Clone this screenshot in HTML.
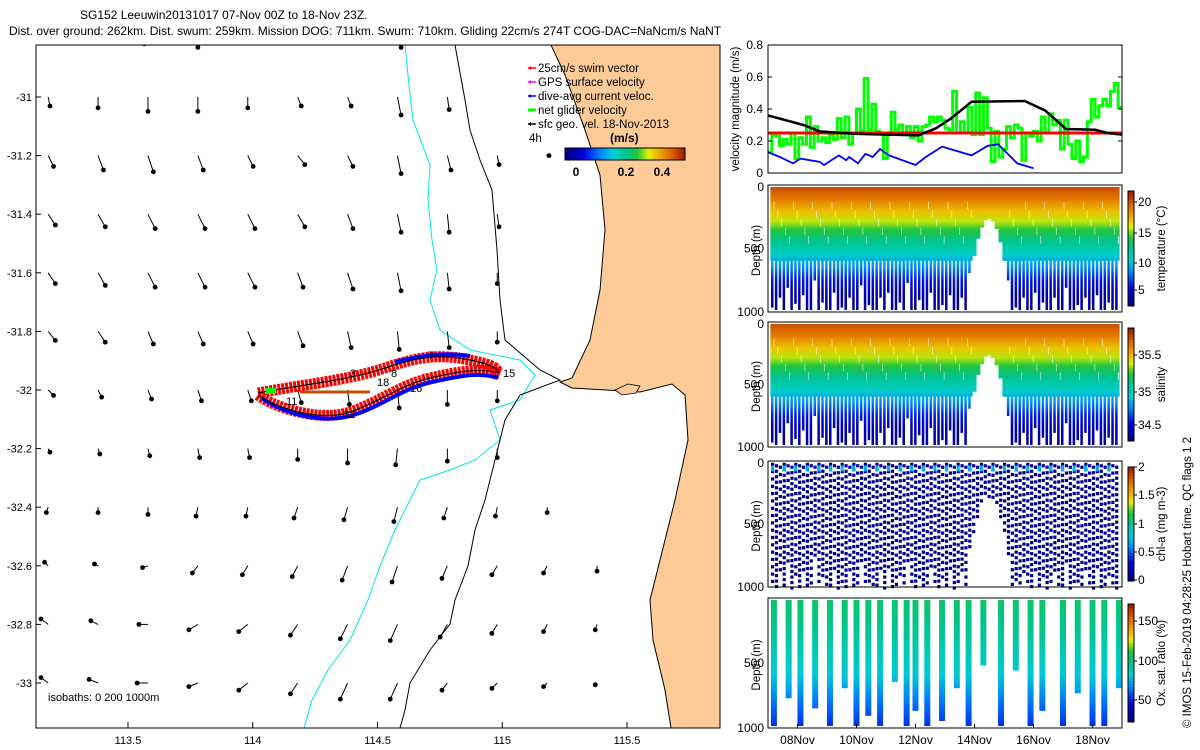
<!DOCTYPE html>
<html><head><meta charset="utf-8"><style>
html,body{margin:0;padding:0;background:#fff;}
svg{display:block;font-family:"Liberation Sans",sans-serif;}
</style></head><body>
<svg id="s" width="1200" height="750" xmlns="http://www.w3.org/2000/svg">
<rect width="1200" height="750" fill="#fff"/>
<text x="80" y="19" font-size="12">SG152 Leeuwin20131017 07-Nov 00Z to 18-Nov 23Z.</text>
<text x="9" y="35" font-size="12">Dist. over ground: 262km. Dist. swum: 259km. Mission DOG: 711km. Swum: 710km. Gliding 22cm/s 274T COG-DAC=NaNcm/s NaNT</text>
<g id="map"></g>
<g id="vel"></g>
<g id="heat"></g>
<text transform="translate(1191,728) rotate(-90)" font-size="11.5">© IMOS 15-Feb-2019 04:28:25 Hobart time. QC flags 1 2</text>
</svg>
<script>
// ---------- DATA ----------
const lonTicks=[113.5,114,114.5,115,115.5];
const latTicks=[-31,-31.2,-31.4,-31.6,-31.8,-32,-32.2,-32.4,-32.6,-32.8,-33];
const arrowLons=[113.18,113.38,113.58,113.78,113.98,114.18,114.38,114.58,114.78,114.98,115.18,115.38,115.58];
const arrowLats=[-30.8,-31,-31.2,-31.4,-31.6,-31.8,-32,-32.2,-32.4,-32.6,-32.8,-33];
const arrowU=[
[0,0,-0.02,0,0,0,0.01,0.02,0,0.01,0,0,0],
[0.01,0,0,0,0,0.02,0.02,0.02,0.01,0,0,0,0],
[0.03,0.03,0.03,0.03,0.03,0.04,0.03,0.02,0.02,0.01,0.01,0,0],
[0.04,0.04,0.04,0.04,0.04,0.04,0.03,0.02,0.01,0.01,0,0,0],
[0.04,0.04,0.04,0.04,0.04,0.03,0.03,0.02,0.01,0,0,0,0],
[0.04,0.04,0.03,0.03,0.03,0.03,0.02,0.01,0.01,0,0,0,0],
[0.03,0.02,0.02,0.02,0.02,0.02,0.01,0.01,0,0,0,0,0],
[0.01,0.01,0.01,0.01,0.01,0,0,-0.01,0,0,0,0,0],
[-0.01,0,0,-0.01,-0.01,-0.02,-0.02,-0.02,-0.02,-0.01,0,0,0],
[-0.02,-0.02,-0.03,-0.03,-0.03,-0.03,-0.03,-0.03,-0.03,-0.03,-0.02,0,0],
[-0.04,-0.04,-0.05,-0.05,-0.05,-0.04,-0.04,-0.04,-0.04,-0.03,-0.02,-0.01,0],
[-0.04,-0.05,-0.06,-0.05,-0.05,-0.04,-0.04,-0.04,-0.03,-0.03,-0.02,-0.01,0]];
const arrowV=[
[0,0,-0.03,-0.05,-0.02,0,-0.02,-0.05,0,0,0,0,0],
[-0.05,-0.06,-0.08,-0.08,-0.06,-0.05,-0.05,-0.1,-0.07,0,0,0,0],
[-0.06,-0.08,-0.09,-0.08,-0.06,-0.05,-0.06,-0.1,-0.08,-0.05,0,0,0],
[-0.06,-0.07,-0.08,-0.08,-0.08,-0.07,-0.08,-0.1,-0.1,-0.07,0,0,0],
[-0.06,-0.07,-0.08,-0.08,-0.08,-0.08,-0.09,-0.1,-0.09,-0.06,0,0,0],
[-0.05,-0.06,-0.07,-0.07,-0.07,-0.08,-0.09,-0.1,-0.09,-0.06,0,0,0],
[-0.03,-0.04,-0.05,-0.06,-0.06,-0.07,-0.08,-0.1,-0.08,-0.06,0,0,0],
[-0.02,-0.03,-0.04,-0.05,-0.05,-0.06,-0.08,-0.09,-0.07,-0.05,0,0,0],
[-0.03,-0.03,-0.04,-0.05,-0.05,-0.06,-0.07,-0.08,-0.06,-0.05,-0.03,0,0],
[0.02,0.01,-0.01,-0.04,-0.05,-0.06,-0.08,-0.09,-0.07,-0.05,-0.04,-0.03,0],
[0.03,0.02,0,-0.03,-0.04,-0.06,-0.08,-0.09,-0.07,-0.05,-0.04,-0.03,0],
[0.03,0.02,0,-0.02,-0.04,-0.06,-0.09,-0.09,-0.04,-0.03,-0.02,-0.01,0]];
const velTicks=[0,0.2,0.4,0.6,0.8];
const dayTickLabels=["08Nov","10Nov","12Nov","14Nov","16Nov","18Nov"];
const dayTickPos=[1,3,5,7,9,11];
const blackDays=[0,1.2,1.75,2.9,5.1,5.7,6.2,6.9,8.7,9.4,10.1,11.1,11.5,12];
const blackVals=[0.36,0.30,0.26,0.245,0.235,0.28,0.34,0.445,0.45,0.39,0.275,0.27,0.25,0.24];
const blueDays=[0,0.4,0.85,1.1,1.75,1.9,2.4,2.65,2.75,3.05,3.3,3.55,3.8,4.1,5.0,5.35,5.9,6.9,7.45,7.8,8.45,9.0];
const blueVals=[0.13,0.10,0.06,0.09,0.07,0.05,0.11,0.08,0.10,0.06,0.12,0.10,0.15,0.11,0.05,0.10,0.165,0.11,0.17,0.18,0.06,0.03];
const greenVals=[0.13,0.24,0.23,0.17,0.21,0.18,0.25,0.09,0.22,0.18,0.35,0.16,0.29,0.2,0.22,0.19,0.24,0.21,0.34,0.22,0.35,0.18,0.25,0.4,0.26,0.59,0.27,0.43,0.26,0.25,0.09,0.25,0.38,0.27,0.3,0.25,0.29,0.22,0.29,0.2,0.29,0.3,0.35,0.32,0.35,0.33,0.28,0.27,0.51,0.25,0.32,0.25,0.41,0.24,0.5,0.24,0.47,0.28,0.07,0.26,0.1,0.15,0.29,0.22,0.3,0.28,0.08,0.25,0.23,0.26,0.2,0.35,0.25,0.37,0.3,0.33,0.15,0.33,0.18,0.09,0.2,0.07,0.1,0.32,0.46,0.35,0.42,0.46,0.42,0.51,0.56,0.41];
const redVal=0.25;
const profDepth=[980,1000,900,1000,820,1000,950,1000,880,1000,1000,760,1000,940,1000,1000,860,1000,980,1000,900,1000,1000,800,1000,960,1000,1000,900,1000,860,1000,1000,940,1000,780,1000,1000,920,1000,1000,860,1000,1000,960,1000,880,1000,1000,900,1000,700,560,420,330,270,260,280,340,450,600,760,1000,980,1000,900,1000,1000,860,1000,940,1000,1000,900,1000,1000,820,1000,1000,960,1000,900,1000,1000,880,1000,1000,940,1000,1000];
const profDepths=[0,100,200,280,350,450,550,650,750,850,1000];
const tempVals=[21.6,20.2,18.2,16.6,15,13,11.4,9,6.6,4.6,4];
const salVals=[35.82,35.7,35.52,35.38,35.24,35.07,34.93,34.72,34.52,34.36,34.3];
const oxDays=[0.2,0.7,1.1,1.6,2.1,2.6,3.0,3.4,3.8,4.3,4.7,5.0,5.4,5.9,6.4,6.8,7.3,7.9,8.4,8.9,9.3,10.0,10.5,11.0,11.4,11.9];
const oxDepth=[1000,780,1000,860,1000,700,1000,920,1000,650,1000,880,1000,960,700,1000,520,1000,560,1000,880,1000,740,1000,1000,700];
const oxDepths=[0,200,400,600,800,1000];
const oxVals=[102,97,88,78,62,50];

// ---------- helpers ----------
const NS="http://www.w3.org/2000/svg";
function mk(tag,attrs,parent){const e=document.createElementNS(NS,tag);for(const k in attrs)e.setAttribute(k,attrs[k]);parent.appendChild(e);return e;}
const CM=[[0,[0,0,127]],[0.15,[0,0,224]],[0.3,[0,140,255]],[0.4,[0,208,208]],[0.5,[0,196,150]],[0.6,[30,196,60]],[0.7,[230,240,0]],[0.8,[240,160,0]],[0.9,[220,96,0]],[1,[160,32,0]]];
function jet(t){t=Math.max(0,Math.min(1,t));for(let i=1;i<CM.length;i++)if(t<=CM[i][0]){const f=(t-CM[i-1][0])/(CM[i][0]-CM[i-1][0]);const a=CM[i-1][1],b=CM[i][1];return `rgb(${Math.round(a[0]+f*(b[0]-a[0]))},${Math.round(a[1]+f*(b[1]-a[1]))},${Math.round(a[2]+f*(b[2]-a[2]))})`;}return "rgb(160,32,0)";}

// ---------- MAP ----------
const map=document.getElementById('map');
const MX0=36,MX1=720,MY0=45,MY1=728;
const lonX=l=>128+(l-113.5)*249.5, latY=a=>97+(-31-a)/0.2*58.6;
mk('defs',{},map).innerHTML='<clipPath id="mclip"><rect x="36" y="45" width="684" height="683"/></clipPath>';
const mg=mk('g',{'clip-path':'url(#mclip)'},map);
let land=mk('path',{d:"M551,45 L565,75 L585,130 L600,175 L605,230 L600,290 L590,340 L572,378 L560,382 L572,388 L640,392 L672,384 L685,395 L688,440 L675,500 L660,560 L650,600 L653,640 L665,690 L671,728 L720,728 L720,45 Z",fill:"#fccb98",stroke:"#000","stroke-width":1},mg);

let isl=mk('path',{d:"M615,390 L628,384 L640,386 L636,393 L622,395 Z",fill:"#fccb98",stroke:"#000","stroke-width":0.8},mg);

let cy=mk('polyline',{points:"405,45 410,95 413,120 430,165 428,200 432,240 437,270 430,300 440,330 470,350 520,360 535,375 520,400 490,410 500,440 475,460 450,470 420,480 410,500 395,530 380,566 368,600 350,640 328,670 312,700 304,728",fill:"none",stroke:"#00e5ee","stroke-width":1},mg);

let bk=mk('polyline',{points:"455,45 465,100 470,130 480,160 492,190 497,250 500,300 505,340 540,370 560,380 520,395 505,420 495,460 485,500 475,530 468,566 455,600 450,624 430,650 410,683 405,710 400,728",fill:"none",stroke:"#000","stroke-width":1},mg);

arrowLats.forEach((la,r)=>arrowLons.forEach((lo,c)=>{
 const x=lonX(lo),y=latY(la),u=arrowU[r][c],v=arrowV[r][c];
 if(u===0&&v===0)return;
 const x2=x+u*180,y2=y-v*180;
 const a=mk('g',{},mg);
 
 
 mk('line',{x1:x,y1:y,x2:x2,y2:y2,stroke:"#000","stroke-width":1},a);
 mk('circle',{cx:x2,cy:y2,r:2.4,fill:"#000"},a);
}));
const trk=mk('g',{},mg);
const up="M258,393 C300,385 350,380 385,368 S440,354 470,360 S495,370 500,373";
const lo="M258,395 C275,408 320,422 350,412 S400,385 430,378 S480,368 500,373";
mk('path',{d:up,fill:"none",stroke:"#f00","stroke-width":11,"stroke-dasharray":"3 1"},trk);
mk('path',{d:lo,fill:"none",stroke:"#f00","stroke-width":11,"stroke-dasharray":"3 1"},trk);
mk('path',{d:"M262,398 C280,412 320,424 350,416 S400,389 432,382 S480,372 498,378",fill:"none",stroke:"#0000ff","stroke-width":4},trk);
mk('path',{d:"M395,362 C420,356 440,352 470,356",fill:"none",stroke:"#0000ff","stroke-width":4},trk);
mk('path',{d:up,fill:"none",stroke:"#000","stroke-width":1.2},trk);
mk('path',{d:lo,fill:"none",stroke:"#000","stroke-width":1.2},trk);
mk('path',{d:"M300,392 L370,392",stroke:"#c05000","stroke-width":3},trk);
mk('rect',{x:266,y:388,width:10,height:6,fill:"#0f0"},trk);
[["15",503,377],["11",286,405],["12",343,418],["18",377,386],["8",391,377],["16",410,392],["3",350,377],["7",428,359]].forEach(t=>{const e=mk('text',{x:t[1],y:t[2],'font-size':11},trk);e.textContent=t[0];});
mk('rect',{x:MX0,y:MY0,width:MX1-MX0,height:MY1-MY0,fill:"none",stroke:"#000","stroke-width":1},map);
lonTicks.forEach(l=>{const x=lonX(l);mk('line',{x1:x,y1:MY1,x2:x,y2:MY1-6,stroke:"#000"},map);const t=mk('text',{x:x,y:MY1+16,'font-size':11,'text-anchor':'middle'},map);t.textContent=l;});
latTicks.forEach(a=>{const y=latY(a);mk('line',{x1:MX0,y1:y,x2:MX0+5,y2:y,stroke:"#000"},map);const t=mk('text',{x:MX0-4,y:y+4,'font-size':11,'text-anchor':'end'},map);t.textContent=a;});
const iso=mk('text',{x:48,y:701,'font-size':11},map);iso.textContent="isobaths: 0   200  1000m";
const leg=mk('g',{},map);
[["#f00","25cm/s swim vector"],["#f0f","GPS surface velocity"],["#00f","dive-avg current veloc."],["#0f0","net glider velocity"],["#000","sfc geo. vel. 18-Nov-2013"]].forEach((it,i)=>{
 const y=68+i*14;mk('line',{x1:528,y1:y,x2:536,y2:y,stroke:it[0],"stroke-width":i==3?3:1.5},leg);
 mk('path',{d:`M528,${y} l3,-2 v4 z`,fill:it[0]},leg);
 const t=mk('text',{x:538,y:y+4,'font-size':11.5},leg);t.textContent=it[1];});
const h4=mk('text',{x:529,y:142,'font-size':11.5},leg);h4.textContent="4h";
const ms=mk('text',{x:610,y:142,'font-size':12,'font-weight':'bold'},leg);ms.textContent="(m/s)";
for(let i=0;i<60;i++)mk('rect',{x:565+i*2,y:148,width:2.2,height:12,fill:jet(i/59)},leg);
mk('rect',{x:565,y:148,width:120,height:12,fill:"none",stroke:"#000"},leg);
[["0",576],["0.2",626],["0.4",662]].forEach(t=>{const e=mk('text',{x:t[1],y:176,'font-size':12,'font-weight':'bold','text-anchor':'middle'},leg);e.textContent=t[0];});

// ---------- VELOCITY CHART ----------
const vel=document.getElementById('vel');
const VX0=768,VX1=1122,VY0=45,VY1=173;
const dX=d=>VX0+d*(VX1-VX0)/12, vY=v=>VY1-v/0.8*(VY1-VY0);
let pts=[];greenVals.forEach((v,i)=>{const d0=i*12/greenVals.length,d1=(i+1)*12/greenVals.length;pts.push(dX(d0)+","+vY(v),dX(d1)+","+vY(v));});
let gl=mk('polyline',{points:pts.join(" "),fill:"none",stroke:"#00ff00","stroke-width":3},vel);
let rl=mk('line',{x1:dX(0),x2:dX(12),y1:vY(redVal),y2:vY(redVal),stroke:"#f00","stroke-width":3},vel);
let kl=mk('polyline',{points:blackDays.map((d,i)=>dX(d)+","+vY(blackVals[i])).join(" "),fill:"none",stroke:"#000","stroke-width":2.5},vel);
let bl=mk('polyline',{points:blueDays.map((d,i)=>dX(d)+","+vY(blueVals[i])).join(" "),fill:"none",stroke:"#0000ff","stroke-width":1.8},vel);
mk('rect',{x:VX0,y:VY0,width:VX1-VX0,height:VY1-VY0,fill:"none",stroke:"#000"},vel);
velTicks.forEach(v=>{const y=vY(v);mk('line',{x1:VX0,x2:VX0+4,y1:y,y2:y,stroke:"#000"},vel);mk('line',{x1:VX1,x2:VX1-4,y1:y,y2:y,stroke:"#000"},vel);const t=mk('text',{x:VX0-5,y:y+4,'font-size':12,'text-anchor':'end'},vel);t.textContent=v;});
const vyl=mk('text',{transform:`translate(739,${(VY0+VY1)/2}) rotate(-90)`,'font-size':11.5,'text-anchor':'middle'},vel);vyl.textContent="velocity magnitude (m/s)";

// ---------- SECTIONS ----------
const heat=document.getElementById('heat');
const panels=[
 {y0:185,y1:312,name:"temperature",label:"temperature (°C)",ticks:[[20,202],[15,233],[10,263],[5,290]],kind:"t"},
 {y0:322,y1:447,name:"salinity",label:"salinity",ticks:[[35.5,355],[35,392],[34.5,425]],kind:"s"},
 {y0:461,y1:587,name:"chlorophyll",label:"chl-a (mg m-3)",ticks:[[2,467],[1.5,495],[1,524],[0.5,552],[0,580]],kind:"c"},
 {y0:598,y1:728,name:"oxygen",label:"Ox. sat. ratio (%)",ticks:[[150,621],[100,661],[50,700]],kind:"o"}];
panels.forEach(p=>{
 const g=mk('g',{},heat);
 const zY=z=>p.y0+2+z/1000*(p.y1-p.y0-4);
 const n=profDepth.length,dw=(VX1-VX0-6)/n;
 if(p.kind==="t"||p.kind==="s"){
  const vals=p.kind==="t"?tempVals:salVals, lo=p.kind==="t"?3:34.2, hi=p.kind==="t"?23:35.95;
  const gid="g"+p.kind;
  const lg=mk('linearGradient',{id:gid,x1:0,y1:zY(0),x2:0,y2:zY(1000),gradientUnits:"userSpaceOnUse"},g);
  profDepths.forEach((z,i)=>mk('stop',{offset:z/1000,'stop-color':jet((vals[i]-lo)/(hi-lo))},lg));
  profDepth.forEach((d,i)=>{const x=VX0+3+i*dw;
   const top=Math.min(d,600);
   mk('rect',{x:x-0.6,y:zY(0),width:dw+1.2,height:zY(top)-zY(0),fill:`url(#${gid})`},g);
   mk('rect',{x:x,y:zY(0),width:dw*0.65,height:zY(d)-zY(0),fill:`url(#${gid})`},g);
   if(d>600)mk('rect',{x:x+dw*0.7,y:zY(120+(i%5)*70),width:0.8,height:zY(60)-zY(0),fill:"#fff"},g);});
 } else if(p.kind==="c"){
  profDepth.forEach((d,i)=>{const x=VX0+3+i*dw;
   for(let z=10;z<=d;z+=((i%2)?45:60)){mk('rect',{x:x,y:zY(z+(i%3)*12)-1.5,width:3.2,height:3.2,fill:"#00008f"},g);}
   if(i%3===0)mk('rect',{x:x,y:zY(20),width:3,height:6,fill:jet(0.35)},g);});
 } else {
  const lo=20,hi=170;
  oxDays.forEach((dd,i)=>{const x=dX(dd);
   const gid="go"+i;const lg=mk('linearGradient',{id:gid,x1:0,y1:zY(0),x2:0,y2:zY(1000),gradientUnits:"userSpaceOnUse"},g);
   oxDepths.forEach((z,k)=>mk('stop',{offset:z/1000,'stop-color':jet((oxVals[k]-lo)/(hi-lo))},lg));
   mk('rect',{x:x-3,y:zY(0),width:6,height:zY(oxDepth[i])-zY(0),fill:`url(#${gid})`},g);});
 }
 mk('rect',{x:VX0,y:p.y0,width:VX1-VX0,height:p.y1-p.y0,fill:"none",stroke:"#000"},g);
 [[0,p.y0+6],[500,(p.y0+p.y1)/2+4],[1000,p.y1+4]].forEach(t=>{if(p.kind==="o"&&t[0]===0)return;const e=mk('text',{x:VX0-4,y:t[1],'font-size':12,'text-anchor':'end'},g);e.textContent=t[0];});
 const dl=mk('text',{transform:`translate(760,${(p.y0+p.y1)/2+2}) rotate(-90)`,'font-size':11.5,'text-anchor':'middle'},g);dl.textContent="Depth (m)";
 const cb0=p.y0+6,cb1=p.y1-6;
 for(let i=0;i<40;i++)mk('rect',{x:1128,y:cb1-(i+1)*(cb1-cb0)/40,width:6,height:(cb1-cb0)/40+0.5,fill:jet(i/39)},g);
 mk('rect',{x:1128,y:cb0,width:6,height:cb1-cb0,fill:"none",stroke:"#000"},g);
 p.ticks.forEach(t=>{mk('line',{x1:1134,x2:1137,y1:t[1],y2:t[1],stroke:"#000"},g);const e=mk('text',{x:1138,y:t[1]+4,'font-size':12},g);e.textContent=t[0];});
 const cl=mk('text',{transform:`translate(1165,${(p.y0+p.y1)/2}) rotate(-90)`,'font-size':11.5,'text-anchor':'middle'},g);cl.textContent=p.label;
});
dayTickPos.forEach((d,i)=>{const x=dX(d);mk('line',{x1:x,x2:x,y1:728,y2:724,stroke:"#000"},heat);const t=mk('text',{x:x,y:744,'font-size':12,'text-anchor':'middle'},heat);t.textContent=dayTickLabels[i];});
</script>
</body></html>
